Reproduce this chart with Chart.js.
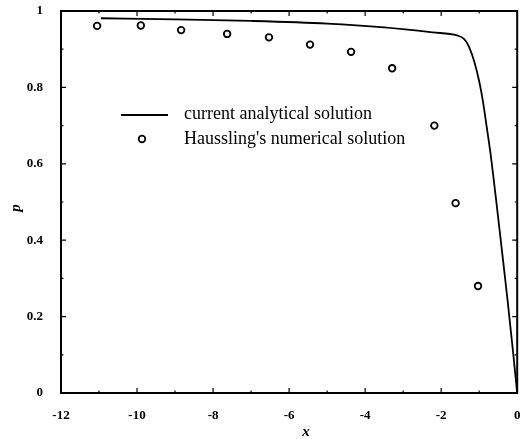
<!DOCTYPE html>
<html>
<head>
<meta charset="utf-8">
<script src="https://cdn.jsdelivr.net/npm/chart.js@4/dist/chart.umd.min.js"></script>
<style>
  html, body { margin: 0; padding: 0; background: #fff; }
  #wrap { width: 523px; height: 439px; }
</style>
</head>
<body>
<div id="wrap"><canvas id="grafica"></canvas></div>
<script>
// solucion analitica (linea)
const curveX = [-10.95, -9, -7, -5, -3.5, -2.23, -1.58, -1.40, -1.27, -1.13, -1.0, -0.90, -0.81, -0.71, -0.56, -0.41, -0.26, -0.12, 0];
const curveP = [0.981, 0.978, 0.974, 0.967, 0.957, 0.944, 0.936, 0.927, 0.907, 0.868, 0.816, 0.763, 0.702, 0.633, 0.510, 0.380, 0.249, 0.118, 0];

// solucion numerica de Haussling (circulos)
const numX = [-11.05, -9.9, -8.84, -7.63, -6.53, -5.45, -4.37, -3.29, -2.18, -1.62, -1.03];
const numP = [0.961, 0.962, 0.950, 0.940, 0.931, 0.912, 0.893, 0.850, 0.700, 0.497, 0.280];

// etiquetas de los ejes
const xTicks = [-12, -10, -8, -6, -4, -2, 0];
const yTicks = [0, 0.2, 0.4, 0.6, 0.8, 1];
const xMinor = [-11, -9, -7, -5, -3, -1];
const yMinor = [0.1, 0.3, 0.5, 0.7, 0.9];

const legendLabels = ['current analytical solution', "Haussling's numerical solution"];

const serif = '"Liberation Serif", "DejaVu Serif", serif';

// marco, marcas hacia dentro, leyenda y titulos
const framePlugin = {
    id: 'frame',
    afterDraw(chart) {
        const ctx = chart.ctx;
        const xs = chart.scales.x, ys = chart.scales.y;
        const a = chart.chartArea;
        ctx.save();
        ctx.strokeStyle = '#000';
        ctx.lineWidth = 2;
        ctx.strokeRect(a.left, a.top, a.right - a.left, a.bottom - a.top);

        ctx.lineWidth = 1.2;
        const tick = (list, len) => {
            list.forEach(v => {
                const px = xs.getPixelForValue(v);
                ctx.beginPath();
                ctx.moveTo(px, a.bottom); ctx.lineTo(px, a.bottom - len);
                ctx.moveTo(px, a.top); ctx.lineTo(px, a.top + len);
                ctx.stroke();
            });
        };
        const tickY = (list, len) => {
            list.forEach(v => {
                const py = ys.getPixelForValue(v);
                ctx.beginPath();
                ctx.moveTo(a.left, py); ctx.lineTo(a.left + len, py);
                ctx.moveTo(a.right, py); ctx.lineTo(a.right - len, py);
                ctx.stroke();
            });
        };
        tick(xTicks, 5); tick(xMinor, 2.5);
        tickY(yTicks, 5); tickY(yMinor, 2.5);

        // leyenda
        ctx.lineWidth = 2;
        ctx.beginPath();
        ctx.moveTo(121, 115); ctx.lineTo(168, 115);
        ctx.stroke();
        ctx.lineWidth = 1.8;
        ctx.beginPath();
        ctx.arc(142, 139, 3.3, 0, Math.PI * 2);
        ctx.stroke();
        ctx.fillStyle = '#000';
        ctx.font = '18px ' + serif;
        ctx.textBaseline = 'middle';
        ctx.textAlign = 'left';
        ctx.fillText(legendLabels[0], 184, 114);
        ctx.fillText(legendLabels[1], 184, 139);

        // titulos de los ejes
        ctx.font = 'italic bold 15px ' + serif;
        ctx.textAlign = 'center';
        ctx.fillText('x', 306, 432);
        ctx.translate(16, 208);
        ctx.rotate(-Math.PI / 2);
        ctx.fillText('p', 0, 0);
        ctx.restore();
    }
};

document.addEventListener('DOMContentLoaded', () => {
    const ctx = document.getElementById('grafica').getContext('2d');
    new Chart(ctx, {
        type: 'scatter',
        data: {
            datasets: [{
                label: legendLabels[0],
                type: 'line',
                data: curveX.map((x, i) => ({ x: x, y: curveP[i] })),
                borderColor: '#000',
                borderWidth: 1.8,
                pointRadius: 0,
                fill: false,
                cubicInterpolationMode: 'monotone'
            }, {
                label: legendLabels[1],
                data: numX.map((x, i) => ({ x: x, y: numP[i] })),
                pointStyle: 'circle',
                pointRadius: 3.3,
                borderWidth: 1.8,
                borderColor: '#000',
                backgroundColor: '#fff'
            }]
        },
        options: {
            responsive: true,
            maintainAspectRatio: false,
            animation: false,
            events: [],
            layout: { padding: { left: 0, right: 3, top: 11, bottom: 0 } },
            plugins: { legend: { display: false }, tooltip: { enabled: false } },
            scales: {
                x: {
                    type: 'linear', min: -12, max: 0,
                    grid: { display: false }, border: { display: false },
                    afterBuildTicks: s => { s.ticks = xTicks.map(v => ({ value: v })); },
                    afterFit: s => { s.height = 46; s.paddingLeft = 0; s.paddingRight = 0; },
                    ticks: { color: '#000', font: { family: serif, size: 13, weight: 'bold' }, padding: 7, maxRotation: 0,
                             callback: v => String(v) }
                },
                y: {
                    type: 'linear', min: 0, max: 1,
                    grid: { display: false }, border: { display: false },
                    afterBuildTicks: s => { s.ticks = yTicks.map(v => ({ value: v })); },
                    afterFit: s => { s.width = 61; s.paddingTop = 0; s.paddingBottom = 0; },
                    ticks: { color: '#000', font: { family: serif, size: 13, weight: 'bold' }, padding: 10,
                             callback: v => String(v) }
                }
            }
        },
        plugins: [framePlugin]
    });
});
</script>
</body>
</html>
